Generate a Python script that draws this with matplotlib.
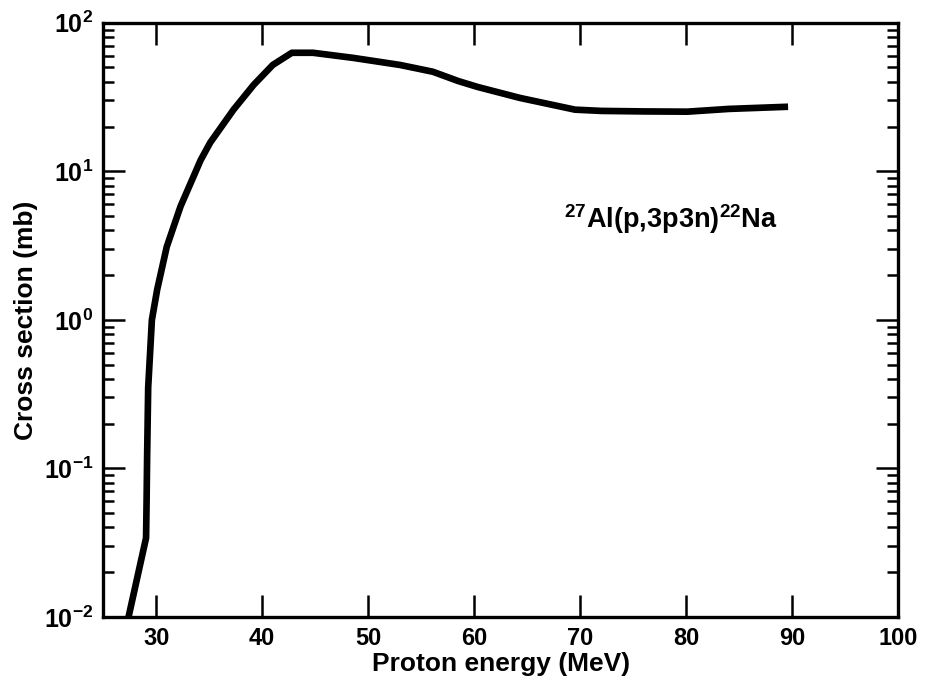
import math
import matplotlib
matplotlib.use("Agg")
import matplotlib.pyplot as plt
from matplotlib.ticker import FixedLocator, LogLocator, NullFormatter, FuncFormatter

# Data (27Al(p,3p3n)22Na excitation function)
energy = [27.4, 29.05, 29.1, 29.15, 29.25, 29.6, 30.1, 31.0, 32.3, 34.2, 35.1,
          37.3, 39.2, 41.0, 42.8, 44.8, 48.6, 53.0, 56.1, 58.5, 60.3, 64.3,
          69.5, 72.0, 76.0, 80.1, 84.0, 89.6]
cross_section = [0.01, 0.034, 0.06, 0.12, 0.35, 1.0, 1.6, 3.1, 5.8, 11.9, 15.6,
                 26.0, 38.2, 52.0, 62.8, 62.8, 58.0, 52.0, 46.8, 40.5, 37.0, 31.2,
                 26.0, 25.5, 25.3, 25.2, 26.3, 27.2]

x_ticks = [30, 40, 50, 60, 70, 80, 90, 100]
reaction_label = r"$^{27}$Al(p,3p3n)$^{22}$Na"

plt.rcParams['font.family'] = ['Liberation Sans', 'DejaVu Sans']
plt.rcParams['font.weight'] = 'bold'
plt.rcParams['mathtext.fontset'] = 'custom'
plt.rcParams['mathtext.rm'] = 'Liberation Sans:bold'
plt.rcParams['mathtext.bf'] = 'Liberation Sans:bold'
plt.rcParams['mathtext.default'] = 'rm'

fig = plt.figure(figsize=(9.29, 6.9), dpi=100)
ax = fig.add_axes([0.111, 0.106, 0.856, 0.861])

ax.plot(energy, cross_section, color='black', linewidth=4.8,
        solid_joinstyle='round', solid_capstyle='butt')

ax.set_yscale('log')
ax.set_xlim(25, 100)
ax.set_ylim(1e-2, 1e2)

ax.xaxis.set_major_locator(FixedLocator(x_ticks))
ax.yaxis.set_major_locator(LogLocator(base=10, numticks=10))
ax.yaxis.set_minor_locator(LogLocator(base=10, subs=range(2, 10), numticks=10))
ax.yaxis.set_minor_formatter(NullFormatter())
ax.yaxis.set_major_formatter(FuncFormatter(
    lambda v, pos: r"$10^{%d}$" % round(math.log10(v))))

ax.tick_params(axis='both', which='both', direction='in', top=True, right=True,
               colors='black')
ax.tick_params(axis='x', which='major', labelsize=17)
ax.tick_params(axis='y', which='major', labelsize=18)
ax.tick_params(axis='both', which='major', length=16, width=1.8, pad=7)
ax.tick_params(axis='y', which='minor', length=8, width=1.8)

for spine in ax.spines.values():
    spine.set_linewidth(2.4)

ax.set_xlabel("Proton energy (MeV)", fontsize=19, fontweight='bold', labelpad=2)
ax.set_ylabel("Cross section (mb)", fontsize=19, fontweight='bold', labelpad=4)

ax.text(0.58, 0.67, reaction_label, transform=ax.transAxes,
        fontsize=19.5, fontweight='bold', ha='left', va='center')

fig.savefig("out.png", dpi=100)
